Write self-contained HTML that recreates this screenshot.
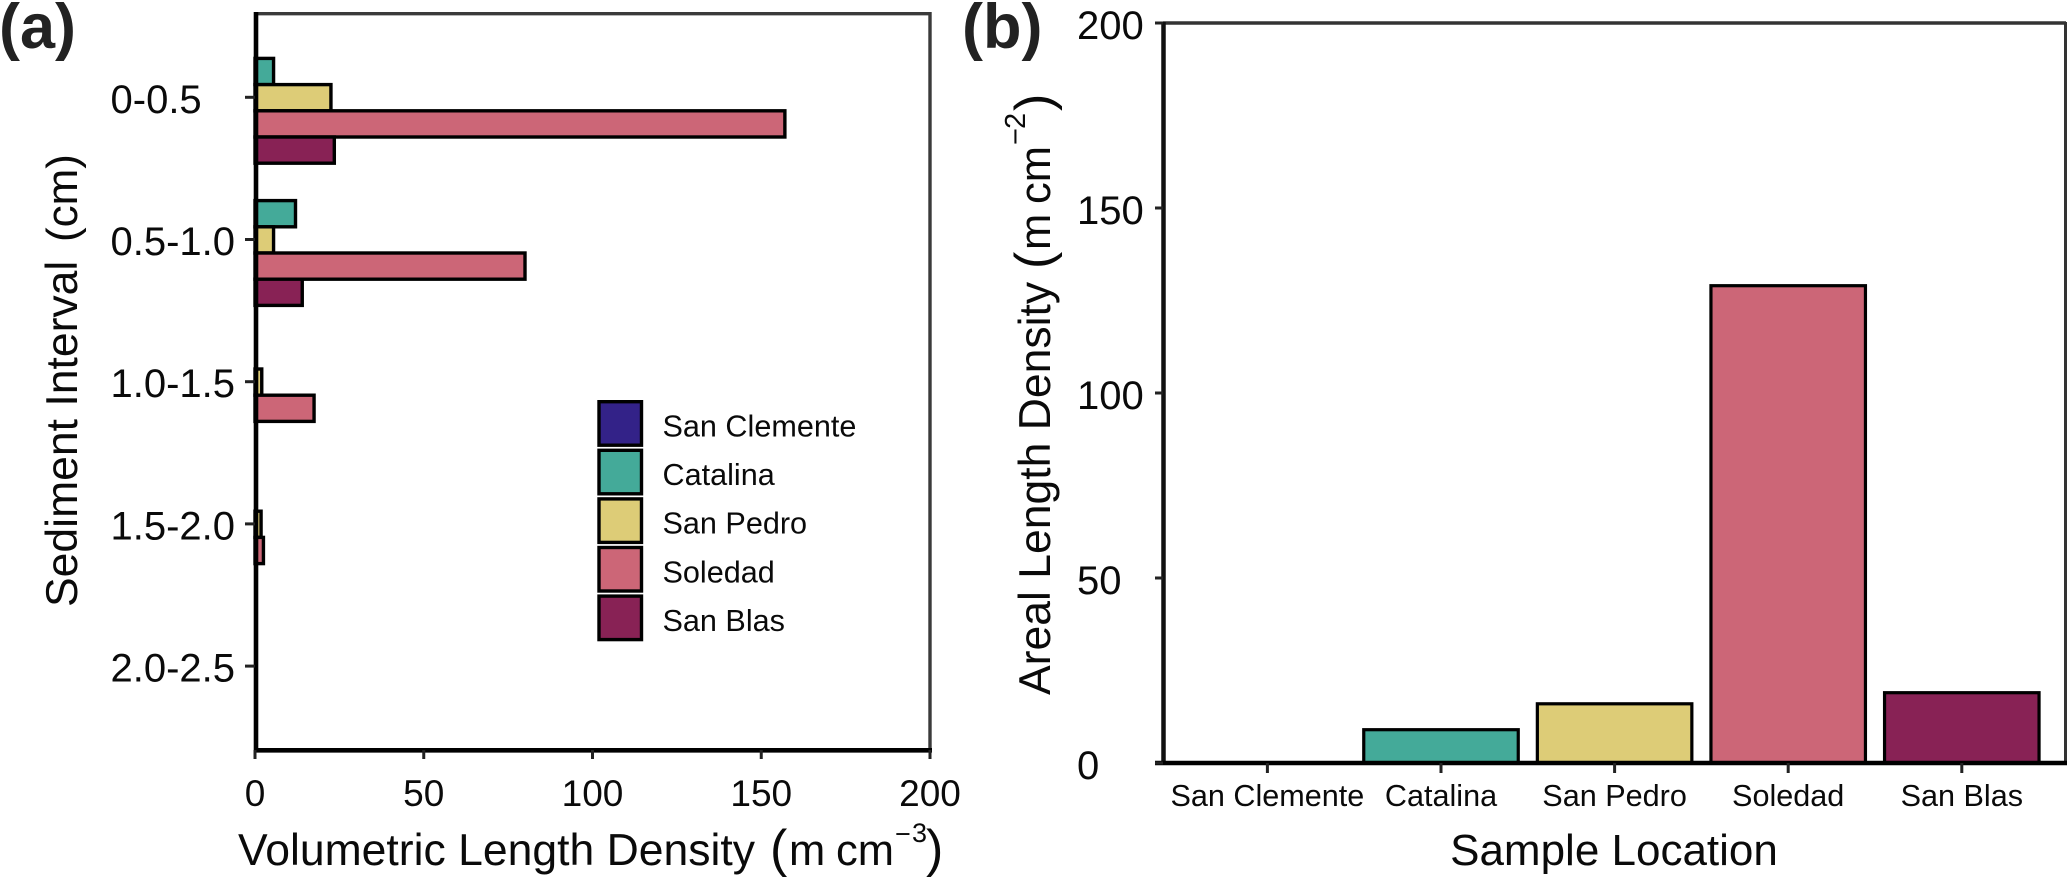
<!DOCTYPE html>
<html>
<head>
<meta charset="utf-8">
<style>
html,body{margin:0;padding:0;background:#fff;width:2067px;height:878px;overflow:hidden}
svg{display:block}
text{font-family:"Liberation Sans",Arial,sans-serif;fill:#0a0a0a}
</style>
</head>
<body>
<svg id="fig" width="2067" height="878" viewBox="0 0 2067 878" xmlns="http://www.w3.org/2000/svg">
  <rect width="2067" height="878" fill="#fff"/>
  <g style="fill:#222">
  <text x="-1" y="48" font-size="63" font-weight="bold" style="fill:#222">(a)</text>
  <text x="962" y="48" font-size="63" font-weight="bold" style="fill:#222">(b)</text>
  </g>
  <g id="panelA"></g>
  <g id="panelB"></g>
  <text y="865" font-size="44.5"><tspan x="238">Volumetric Length Density</tspan><tspan x="770" y="866" font-size="52">(</tspan><tspan x="789" y="865" font-size="43.5">m</tspan><tspan x="836" font-size="43.5">cm</tspan><tspan x="895" y="843" font-size="27">−</tspan><tspan x="912" y="842" font-size="27">3</tspan><tspan x="926" y="866" font-size="52">)</tspan></text>
  <text transform="translate(77,607) rotate(-90)" font-size="44.5"><tspan x="0">Sediment Interval</tspan><tspan x="365" font-size="44">(cm)</tspan></text>
  <text x="1614" y="865" text-anchor="middle" font-size="44">Sample Location</text>
  <text transform="translate(1050,695) rotate(-90)" font-size="44.5"><tspan x="0">Areal Length Density</tspan><tspan x="426" y="1" font-size="52">(</tspan><tspan x="445" y="0" font-size="43.5">m</tspan><tspan x="491" font-size="43.5">cm</tspan><tspan x="550" y="-25" font-size="29">−</tspan><tspan x="566" y="-25" font-size="29">2</tspan><tspan x="584" y="1" font-size="52">)</tspan></text>
</svg>
<script>
// ---- data ----
const locations = ['San Clemente', 'Catalina', 'San Pedro', 'Soledad', 'San Blas'];
const locationColors = ['#332288', '#44AA99', '#DDCC77', '#CC6677', '#882255'];
const intervals = ['0-0.5', '0.5-1.0', '1.0-1.5', '1.5-2.0', '2.0-2.5'];
const sanClementeVolumetric = [0, 0, 0, 0, 0];
const catalinaVolumetric = [5.5, 12, 0, 0, 0];
const sanPedroVolumetric = [22.5, 5.5, 2, 1.8, 0];
const soledadVolumetric = [157, 80, 17.5, 2.5, 0];
const sanBlasVolumetric = [23.5, 14, 0, 0, 0];
const arealDensity = [0, 9, 16, 129, 19];
const valueTicks = [0, 50, 100, 150, 200];

const volumetricSeries = [sanClementeVolumetric, catalinaVolumetric, sanPedroVolumetric, soledadVolumetric, sanBlasVolumetric];

// ---- scales ----
const xA = v => 255 + v * 3.375;
const yA = i => 97.3 + i * 142.2;
const xB = i => 1267.4 + i * 173.6;
const yB = v => 763 - v * 3.7;
const NS = 'http://www.w3.org/2000/svg';

function make(parent, tag, attrs, content) {
  const el = document.createElementNS(NS, tag);
  for (const k in attrs) el.setAttribute(k, attrs[k]);
  if (content !== undefined) el.textContent = content;
  parent.appendChild(el);
  return el;
}
function line(parent, x1, y1, x2, y2, color, w) {
  return make(parent, 'line', {x1: x1, y1: y1, x2: x2, y2: y2, stroke: color, 'stroke-width': w});
}

const gA = document.getElementById('panelA');
const gB = document.getElementById('panelB');

// ---- panel a: bars ----
const barH = 26.2;
volumetricSeries.forEach((series, s) => {
  series.forEach((v, i) => {
    const r = make(gA, 'rect', {
      x: xA(0), y: yA(i) + (s - 2) * barH - barH / 2 + 0.4,
      width: xA(v) - xA(0), height: barH,
      fill: locationColors[s], stroke: '#000', 'stroke-width': 3.4
    });
    
    
  });
});

// ---- panel a: frame ----
let el = line(gA, 255, 13.7, 930, 13.7, '#3a3a3a', 3.4);


el = line(gA, 930, 12, 930, 752, '#3a3a3a', 3.4);


el = line(gA, 256, 12, 256, 752, '#000', 4.6);


el = line(gA, 254, 750.3, 932, 750.3, '#000', 4.6);



// ---- panel a: ticks ----
valueTicks.forEach(t => {
  const tk = line(gA, xA(t), 750, xA(t), 759, '#222', 3);
  
  
  const lb = make(gA, 'text', {x: xA(t), y: 806, 'text-anchor': 'middle', 'font-size': 37}, String(t));
  
  
});
intervals.forEach((name, i) => {
  const tk = line(gA, 245, yA(i), 255, yA(i), '#222', 3);
  
  
  const lb = make(gA, 'text', {x: 110.5, y: yA(i) + 15.5, 'font-size': 40}, name);
  
  
});

// ---- panel a: legend ----
locations.forEach((name, s) => {
  const top = 401.7 + s * 48.6;
  const sw = make(gA, 'rect', {x: 599, y: top, width: 42.5, height: 43.5, fill: locationColors[s], stroke: '#000', 'stroke-width': 3.4});
  
  
  const lb = make(gA, 'text', {x: 662.5, y: top + 34.8, 'font-size': 30.6}, name);
  
  
});

// ---- panel b: bars ----
const barW = 154.5;
arealDensity.forEach((v, i) => {
  const r = make(gB, 'rect', {
    x: xB(i) - barW / 2, y: yB(v), width: barW, height: yB(0) - yB(v),
    fill: locationColors[i], stroke: '#000', 'stroke-width': 3.2
  });
  
  
});

// ---- panel b: frame ----
el = line(gB, 1163, 23, 2066, 23, '#333', 3.5);


el = line(gB, 2065.5, 22, 2065.5, 765, '#333', 3);


el = line(gB, 1163.5, 22, 1163.5, 765, '#111', 4.5);


el = line(gB, 1155, 763, 2067, 763, '#000', 4.6);



// ---- panel b: ticks ----
valueTicks.forEach(t => {
  const tk = line(gB, 1155, yB(t), 1163, yB(t), '#222', 3);
  
  
  const lb = make(gB, 'text', {x: 1077, y: yB(t) + 16, 'font-size': 40}, String(t));
  
  
});
locations.forEach((name, i) => {
  const tk = line(gB, xB(i), 763, xB(i), 773, '#222', 3);
  
  
  const lb = make(gB, 'text', {x: xB(i), y: 806, 'text-anchor': 'middle', 'font-size': 30.6}, name);
  
  
});
</script>
</body>
</html>
